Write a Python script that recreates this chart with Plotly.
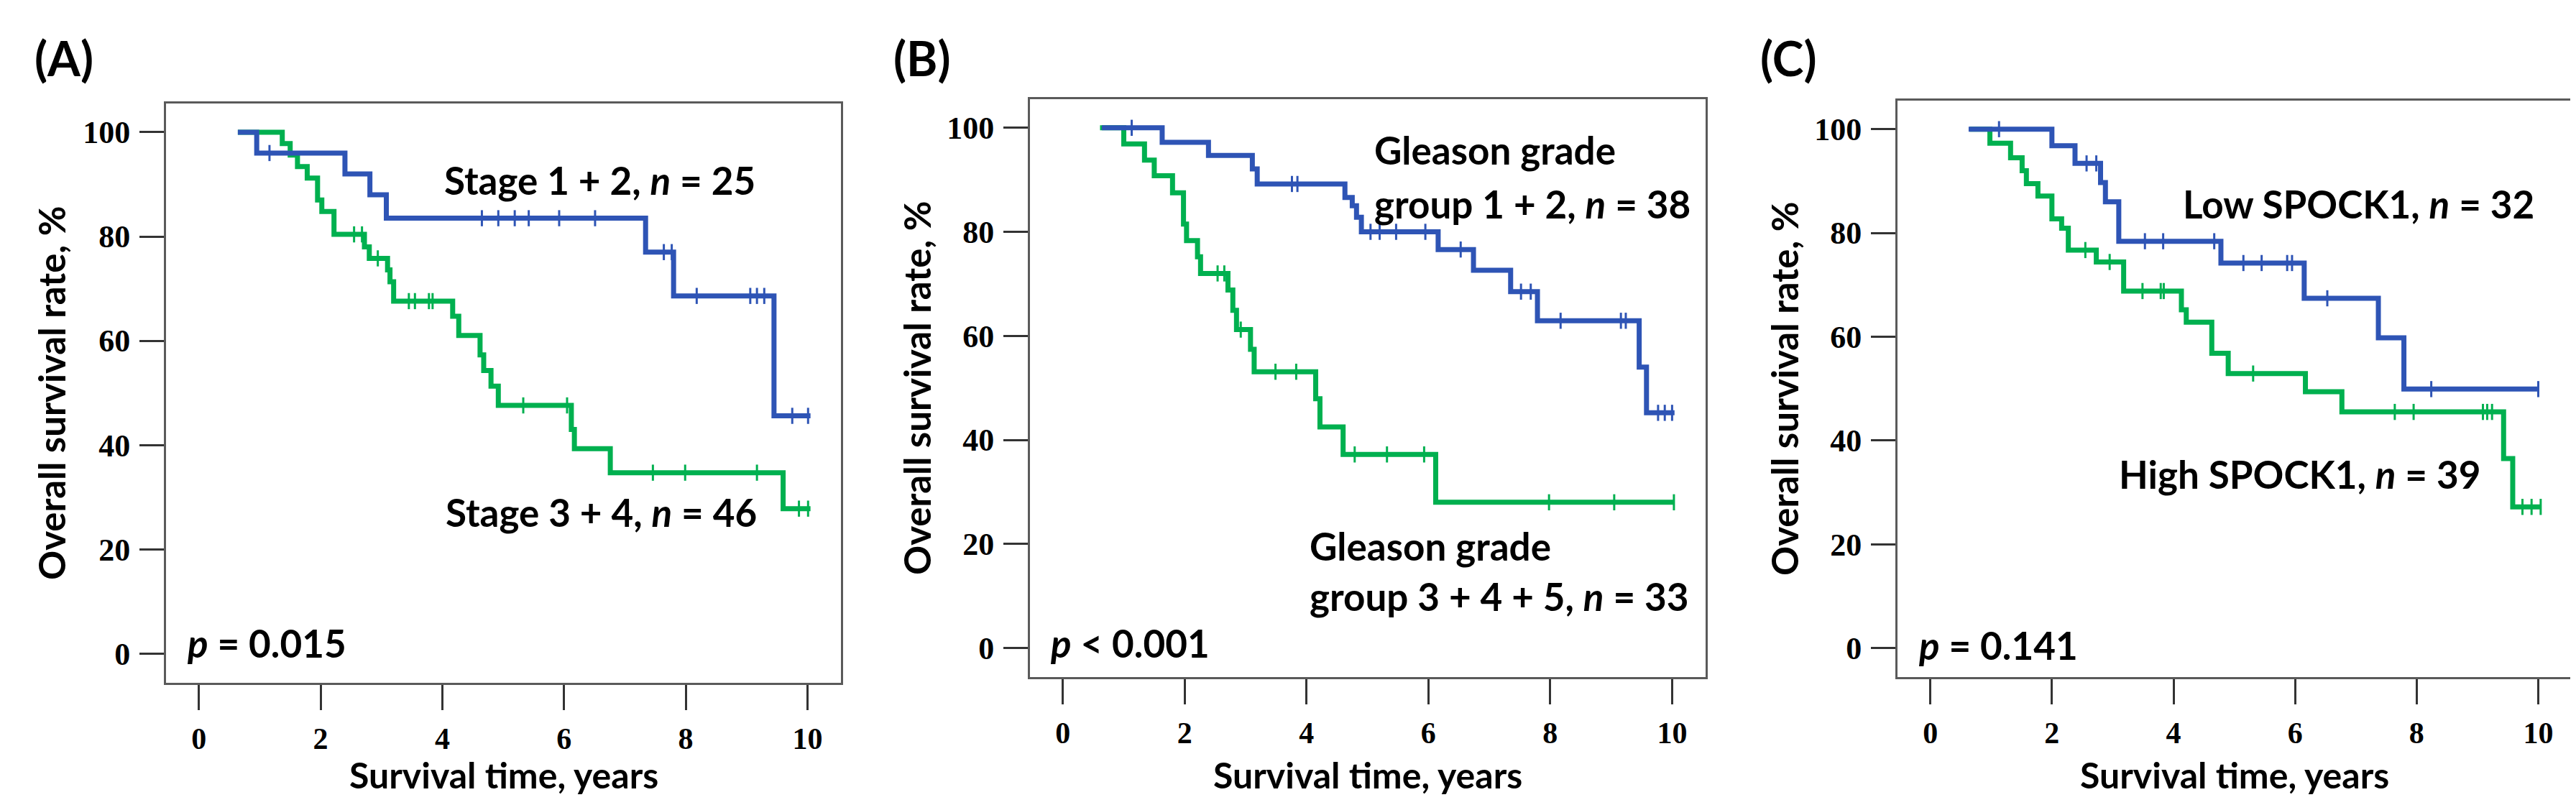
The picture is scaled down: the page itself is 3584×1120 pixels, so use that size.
import plotly.graph_objects as go

W, H = 3584, 1120

# ---------------- data ----------------
# Panel A: stage
A_low_t = [0.64, 0.95, 2.40, 2.81, 3.08, 7.34, 7.80, 9.45, 10.05]
A_low_s = [100, 96.0, 92.0, 88.0, 83.5, 77.0, 68.6, 45.6, 45.6]
A_low_cens = [1.16, 4.65, 4.92, 5.19, 5.42, 5.92, 6.51, 7.64, 7.77, 8.18, 9.06, 9.17, 9.29, 9.75, 10.01]

A_high_t = [0.64, 1.37, 1.50, 1.62, 1.78, 1.95, 2.02, 2.22, 2.72, 2.80, 3.10, 3.14, 3.20,
            4.17, 4.27, 4.62, 4.68, 4.80, 4.92, 6.12, 6.17, 6.76, 9.60, 10.05]
A_high_s = [100, 97.8, 95.6, 93.4, 91.2, 87.0, 84.8, 80.4, 78.0, 75.8, 73.6, 71.3, 67.6,
            64.7, 61.0, 57.3, 54.3, 51.3, 47.6, 43.0, 39.3, 34.7, 27.8, 27.8]
A_high_cens = [2.55, 2.68, 2.94, 3.45, 3.55, 3.78, 3.84, 5.33, 6.05, 7.46, 7.99, 9.17, 9.86, 10.01]

# Panel B: Gleason grade group
B_low_t = [0.64, 1.63, 2.39, 3.11, 3.19, 4.63, 4.75, 4.82, 4.90, 6.16, 6.74, 7.35, 7.79, 9.46, 9.58, 10.04]
B_low_s = [100, 97.2, 94.7, 92.1, 89.2, 86.6, 85.0, 82.8, 80.0, 76.6, 72.6, 68.5, 62.9, 54.0, 45.2, 45.2]
B_low_cens = [1.13, 3.76, 3.85, 5.05, 5.20, 5.47, 5.95, 6.53, 7.52, 7.68, 8.17, 9.16, 9.24, 9.77, 9.88, 10.0]

B_high_t = [0.61, 1.00, 1.34, 1.50, 1.80, 1.98, 2.03, 2.21, 2.26, 2.71, 2.79, 2.85, 3.08, 3.14,
            4.15, 4.22, 4.60, 6.12, 10.03]
B_high_s = [100, 96.9, 93.8, 90.8, 87.5, 81.5, 78.3, 75.2, 72.0, 68.8, 64.9, 61.2, 57.4, 53.1,
            47.9, 42.5, 37.2, 28.0, 28.0]
B_high_cens = [2.54, 2.65, 2.92, 3.49, 3.83, 4.79, 5.32, 5.93, 7.98, 9.05, 10.03]

# Panel C: SPOCK1
C_low_t = [0.63, 2.00, 2.38, 2.80, 2.88, 3.10, 4.78, 6.15, 7.37, 7.79, 10.0]
C_low_s = [100, 96.8, 93.4, 89.7, 86.0, 78.4, 74.2, 67.4, 59.8, 49.9, 49.9]
C_low_cens = [1.13, 2.57, 2.73, 3.53, 3.83, 4.67, 5.15, 5.45, 5.87, 5.95, 6.53, 8.24, 10.0]

C_high_t = [0.65, 0.98, 1.32, 1.51, 1.58, 1.77, 2.00, 2.16, 2.27, 2.73, 3.18, 4.13, 4.21,
            4.63, 4.90, 6.17, 6.77, 9.43, 9.58, 10.04]
C_high_s = [100, 97.3, 94.5, 92.0, 89.5, 87.1, 82.7, 80.9, 76.7, 74.4, 68.8, 65.2, 62.8,
            56.8, 52.9, 49.4, 45.5, 36.5, 27.2, 27.2]
C_high_cens = [2.55, 2.95, 3.49, 3.79, 3.84, 5.31, 7.64, 7.95, 9.09, 9.16, 9.24, 9.74, 9.89, 10.04]

x_ticks = [0, 2, 4, 6, 8, 10]
y_ticks = [0, 20, 40, 60, 80, 100]

BLUE = "#2E54B5"
GREEN = "#00B04F"
FRAME = "#5a5a5a"


def step_value(times, surv, t):
    v = surv[0]
    for ti, si in zip(times, surv):
        if ti <= t:
            v = si
    return v


panels = [
    dict(key="", lt=A_low_t, ls=A_low_s, lc=A_low_cens, ht=A_high_t, hs=A_high_s, hc=A_high_cens,
         frame=(223, 1162, 136, 942)),
    dict(key="2", lt=B_low_t, ls=B_low_s, lc=B_low_cens, ht=B_high_t, hs=B_high_s, hc=B_high_cens,
         frame=(1425, 2365, 130, 934)),
    dict(key="3", lt=C_low_t, ls=C_low_s, lc=C_low_cens, ht=C_high_t, hs=C_high_s, hc=C_high_cens,
         frame=(2632, 3570, 132, 934)),
]

fig = go.Figure()
layout = dict(
    width=W, height=H,
    margin=dict(l=0, r=0, t=0, b=0),
    paper_bgcolor="white", plot_bgcolor="white",
    showlegend=False,
)

xtickfont = dict(family="Liberation Serif", size=42, color="black", weight="bold")
ytickfont = dict(family="Liberation Serif", size=44, color="black", weight="bold")

for p in panels:
    k = p["key"]
    xa, ya = "x" + k, "y" + k
    for (tt, ss, cc, col) in [(p["ht"], p["hs"], p["hc"], GREEN), (p["lt"], p["ls"], p["lc"], BLUE)]:
        fig.add_trace(go.Scatter(x=tt, y=ss, mode="lines", line=dict(color=col, width=7, shape="hv"),
                                 xaxis=xa, yaxis=ya, hoverinfo="skip"))
        fig.add_trace(go.Scatter(x=cc, y=[step_value(tt, ss, c) for c in cc], mode="markers",
                                 marker=dict(symbol="line-ns-open", size=16, color=col,
                                             line=dict(color=col, width=3)),
                                 xaxis=xa, yaxis=ya, hoverinfo="skip"))
    l, r, t, b = p["frame"]
    layout["xaxis" + k] = dict(
        domain=[l / W, r / W], range=[-0.54, 10.55], anchor=ya,
        tickvals=x_ticks, ticktext=[str(v) for v in x_ticks],
        ticks="outside", ticklen=35, tickwidth=3, tickcolor="#333",
        showline=True, linecolor=FRAME, linewidth=3, mirror=True,
        showgrid=False, zeroline=False, tickfont=xtickfont, ticklabelstandoff=4,
    )
    layout["yaxis" + k] = dict(
        domain=[1 - b / H, 1 - t / H], range=[-5.6, 105.5], anchor=xa,
        tickvals=y_ticks, ticktext=[str(v) for v in y_ticks],
        ticks="outside", ticklen=34, tickwidth=3, tickcolor="#333",
        showline=True, linecolor=FRAME, linewidth=3, mirror=True,
        showgrid=False, zeroline=False, tickfont=ytickfont, ticklabelstandoff=4,
    )

fig.update_layout(**layout)


def ann(text, x, y, xanchor="center", yanchor="middle", size=53, angle=0):
    fig.add_annotation(text=text, x=x / W, y=1 - y / H, xref="paper", yref="paper",
                       xanchor=xanchor, yanchor=yanchor, showarrow=False, textangle=angle,
                       font=dict(family="Lato", size=size, color="black"))


# panel letters
ann("<b>(A)</b>", 81, 72, size=66)
ann("<b>(B)</b>", 1275, 72, size=66)
ann("<b>(C)</b>", 2480, 72, size=66)

# axis titles
for (fl, fr, ft, fb), tx in [((223, 1162, 136, 942), 63), ((1425, 2365, 130, 934), 1267),
                             ((2632, 3570, 132, 934), 2474)]:
    ann("<b>Overall survival rate, %</b>", tx, (ft + fb) / 2, angle=-90, size=51)
    ann("<b>Survival time, years</b>", (fl + fr) / 2, 1070, size=50)

# group labels
ann("<b>Stage 1 + 2, <i>n</i> = 25</b>", 826, 242)
ann("<b>Stage 3 + 4, <i>n</i> = 46</b>", 828, 704)
ann("<b>Gleason grade</b>", 1902, 200, xanchor="left")
ann("<b>group 1 + 2, <i>n</i> = 38</b>", 1902, 275, xanchor="left")
ann("<b>Gleason grade</b>", 1812, 752, xanchor="left")
ann("<b>group 3 + 4 + 5, <i>n</i> = 33</b>", 1812, 822, xanchor="left")
ann("<b>Low SPOCK1, <i>n</i> = 32</b>", 3273, 275)
ann("<b>High SPOCK1, <i>n</i> = 39</b>", 3191, 651)

# p values
ann("<b><i>p</i> = 0.015</b>", 250, 886, xanchor="left")
ann("<b><i>p</i> &lt; 0.001</b>", 1451, 886, xanchor="left")
ann("<b><i>p</i> = 0.141</b>", 2659, 889, xanchor="left")

fig.write_html("out.html")
